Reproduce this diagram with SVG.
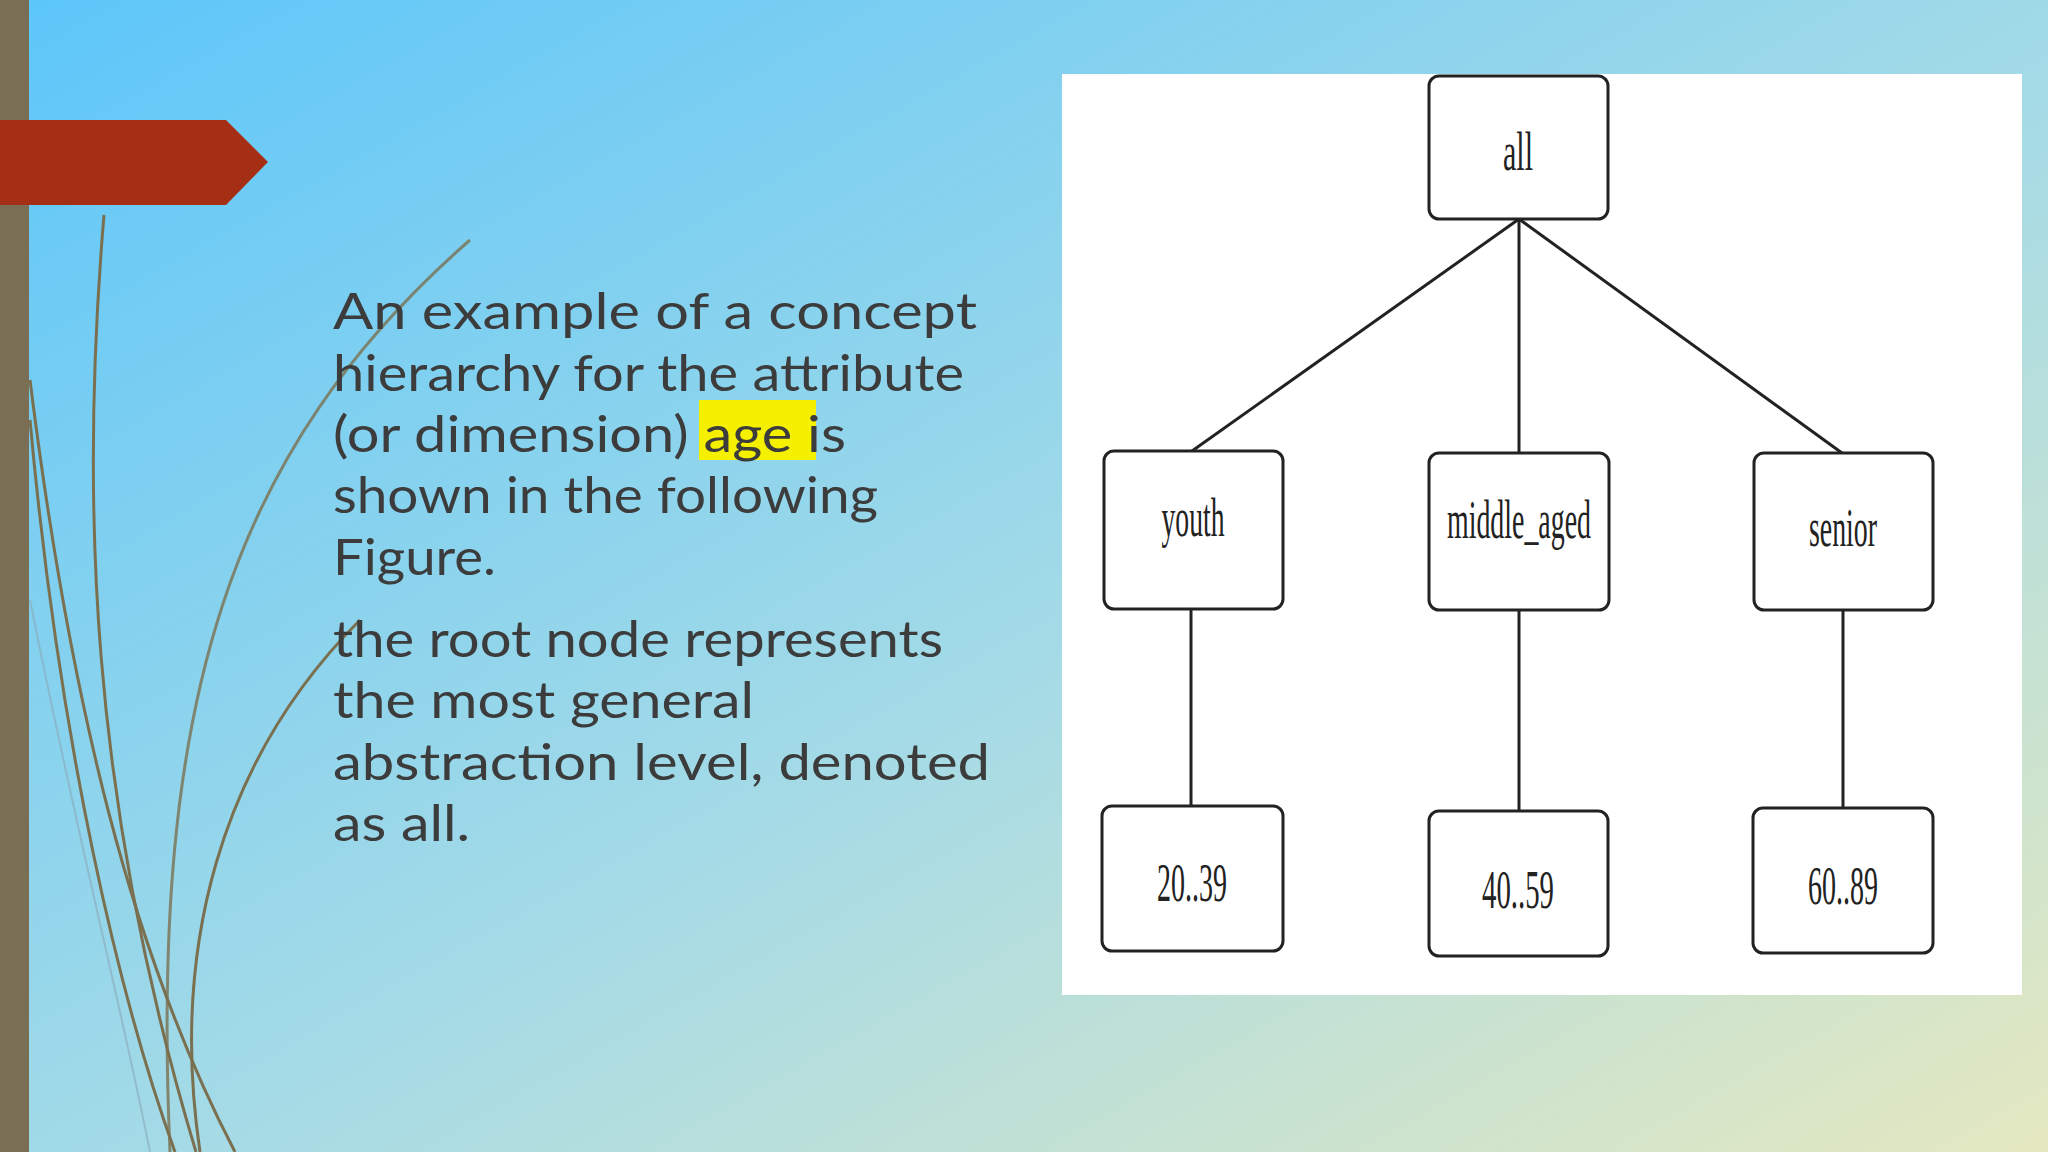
<svg xmlns="http://www.w3.org/2000/svg" width="2048" height="1152" viewBox="0 0 2048 1152">
<defs>
<linearGradient id="bg" x1="0" y1="0" x2="1" y2="1">
<stop offset="0" stop-color="#5cc6fa"/>
<stop offset="0.55" stop-color="#a6dbe6"/>
<stop offset="1" stop-color="#e4e8c0"/>
</linearGradient>
<style>
.node rect{fill:#fff;stroke:#222;stroke-width:3}
.node text{font-family:"Liberation Serif",serif;font-size:54px;fill:#222;text-anchor:middle}
.body{font-family:"Lato","Open Sans",sans-serif;font-size:50px;fill:#3c3c3c}
.vine{fill:none;stroke:#7a7050;stroke-width:3}
</style>
</defs>
<rect width="2048" height="1152" fill="url(#bg)"/>
<g id="decor">
<path class="vine" d="M104 215 C80 500 90 800 196 1152"/>
<path class="vine" d="M30 380 C70 700 130 950 235 1152"/>
<path class="vine" d="M30 420 C60 750 120 1000 175 1152"/>
<path class="vine" d="M470 240 C230 450 150 700 170 1152" stroke-opacity="0.8"/>
<path d="M360 620 C220 760 170 950 200 1152" fill="none" stroke="#7a7050" stroke-width="3"/>
<path d="M30 600 C80 850 120 1000 150 1152" fill="none" stroke="#8aa8b8" stroke-width="2" opacity="0.6"/>
<rect x="0" y="0" width="29" height="1152" fill="#7a6e55"/>
<polygon points="0,120 226,120 268,162 226,205 0,205" fill="#a52f14"/>
</g>
<g id="text">
<text class="body" x="333" y="329" textLength="644" lengthAdjust="spacingAndGlyphs">An example of a concept</text>
<text class="body" x="333" y="391" textLength="631" lengthAdjust="spacingAndGlyphs">hierarchy for the attribute</text>
<rect x="699" y="400" width="117" height="60" fill="#f4f000"/>
<text class="body" x="333" y="452" textLength="513" lengthAdjust="spacingAndGlyphs">(or dimension) age is</text>
<text class="body" x="333" y="513" textLength="545" lengthAdjust="spacingAndGlyphs">shown in the following</text>
<text class="body" x="333" y="575" textLength="163" lengthAdjust="spacingAndGlyphs">Figure.</text>
<text class="body" x="333" y="657" textLength="610" lengthAdjust="spacingAndGlyphs">the root node represents</text>
<text class="body" x="333" y="718" textLength="421" lengthAdjust="spacingAndGlyphs">the most general</text>
<text class="body" x="333" y="780" textLength="657" lengthAdjust="spacingAndGlyphs">abstraction level, denoted</text>
<text class="body" x="333" y="841" textLength="137" lengthAdjust="spacingAndGlyphs">as all.</text>
</g>
<rect id="panel" x="1062" y="74" width="960" height="921" fill="#fff"/>
<g id="connectors" stroke="#222" stroke-width="3">
<line x1="1519" y1="219" x2="1192" y2="451"/>
<line x1="1519" y1="219" x2="1519" y2="453"/>
<line x1="1519" y1="219" x2="1842" y2="453"/>
<line x1="1191" y1="609" x2="1191" y2="806"/>
<line x1="1519" y1="610" x2="1519" y2="811"/>
<line x1="1843" y1="610" x2="1843" y2="808"/>
</g>
<g id="n-all" class="node"><rect x="1429" y="76" width="179" height="143" rx="10"/><text x="1518" y="170" textLength="30" lengthAdjust="spacingAndGlyphs">all</text></g>
<g id="n-youth" class="node"><rect x="1104" y="451" width="179" height="158" rx="10"/><text x="1193" y="536" textLength="63" lengthAdjust="spacingAndGlyphs">youth</text></g>
<g id="n-middle" class="node"><rect x="1429" y="453" width="180" height="157" rx="10"/><text x="1519" y="538" textLength="144" lengthAdjust="spacingAndGlyphs">middle_aged</text></g>
<g id="n-senior" class="node"><rect x="1754" y="453" width="179" height="157" rx="10"/><text x="1843" y="546" textLength="68" lengthAdjust="spacingAndGlyphs">senior</text></g>
<g id="n-2039" class="node"><rect x="1102" y="806" width="181" height="145" rx="10"/><text x="1192" y="901" textLength="70" lengthAdjust="spacingAndGlyphs">20..39</text></g>
<g id="n-4059" class="node"><rect x="1429" y="811" width="179" height="145" rx="10"/><text x="1518" y="908" textLength="72" lengthAdjust="spacingAndGlyphs">40..59</text></g>
<g id="n-6089" class="node"><rect x="1753" y="808" width="180" height="145" rx="10"/><text x="1843" y="904" textLength="70" lengthAdjust="spacingAndGlyphs">60..89</text></g>
</svg>
